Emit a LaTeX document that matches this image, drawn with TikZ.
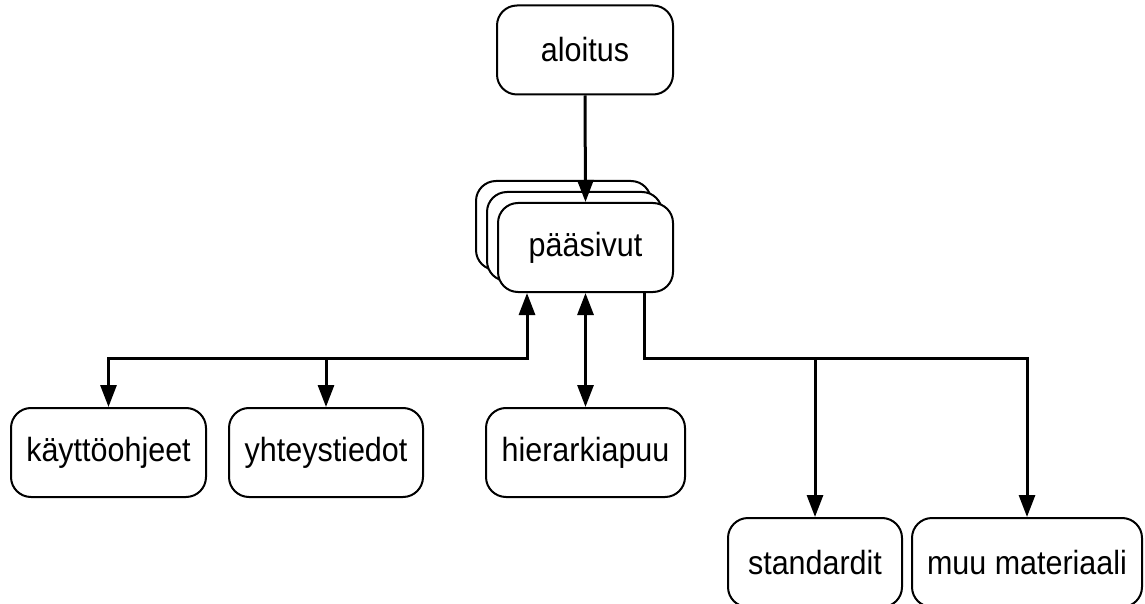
\documentclass[tikz,border=0pt]{standalone}
\usepackage{fontspec}
\setmainfont{Liberation Sans}[FakeStretch=0.91]
\usetikzlibrary{arrows.meta}

\begin{document}
\begin{tikzpicture}[x=0.5pt,y=-0.5pt,
    box/.style={draw,line width=1pt,rounded corners=10pt,fill=white,
      minimum height=44.5pt,inner sep=0pt,
      font=\fontsize{16.75pt}{19pt}\selectfont},
    link/.style={line width=1.5pt},
    arr/.style={link,-{Triangle[length=11pt,width=8pt]}},
    arr2/.style={link,{Triangle[length=11pt,width=8pt]}-{Triangle[length=11pt,width=8pt]}}]

    \useasboundingbox (0,0) rectangle (1145,604);

    % boxes
    \node[box,minimum width=88pt] (aloitus) at (585,50) {aloitus};
    \node[box,minimum width=87.5pt] (kortti2) at (563.5,225.5) {};
    \node[box,minimum width=87.5pt] (kortti1) at (574.5,236.5) {};
    \node[box,minimum width=87.5pt] (paasivut) at (585.5,247.5) {pääsivut};
    \node[box,minimum width=97.5pt] (kaytto) at (108.5,452.5) {käyttöohjeet};
    \node[box,minimum width=97pt] (yhteys) at (326,452.5) {yhteystiedot};
    \node[box,minimum width=99.5pt] (hierarkia) at (585.5,452.5) {hierarkiapuu};
    \node[box,minimum width=87pt] (standardit) at (815,562.5) {standardit};
    \node[box,minimum width=115pt] (muu) at (1027,562.5) {muu materiaali};

    % branch points
    \coordinate (vasen) at (527,358);
    \coordinate (oikea) at (644,358);

    % draw connectors
    \draw[arr] (aloitus.south) -- (paasivut.north);
    \draw[arr2] (kaytto.north) |- (vasen) -- (vasen |- paasivut.south);
    \draw[arr] (yhteys.north |- vasen) -- (yhteys.north);
    \draw[arr2] (paasivut.south) -- (hierarkia.north);
    \draw[arr] (oikea |- paasivut.south) -- (oikea) -| (muu.north);
    \draw[arr] (standardit.north |- oikea) -- (standardit.north);
\end{tikzpicture}
\end{document}
